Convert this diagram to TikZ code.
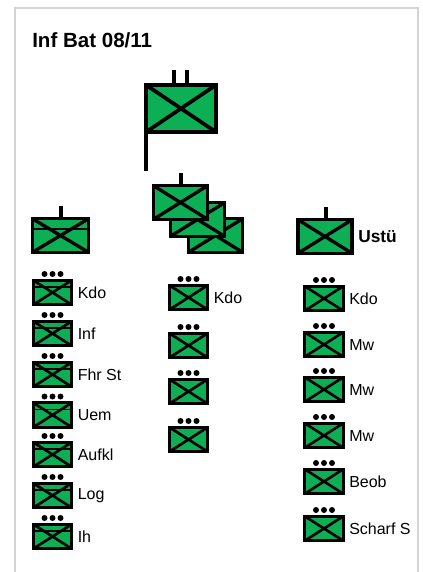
\documentclass[tikz,border=0pt]{standalone}
\usepackage{fontspec}
\setmainfont{Liberation Sans}
\definecolor{milgreen}{HTML}{0DAF55}
\definecolor{panelgrey}{HTML}{D4D4D4}
\newcommand{\pxu}{*0.75pt}
\tikzset{
  crossed/.style={draw=black,fill=milgreen,inner sep=0pt,outer sep=0pt,
    path picture={\draw[line width=#1] (path picture bounding box.north west)--(path picture bounding box.south east)
      (path picture bounding box.north east)--(path picture bounding box.south west);}},
  bigunit/.style={crossed=2.5pt,line width=2.6pt,minimum width=54\pxu,minimum height=33.5\pxu},
  smallunit/.style={crossed=2pt,line width=2pt,minimum width=38.5\pxu,minimum height=24.5\pxu},
  stem/.style={line width=2.3pt},
  rowlabel/.style={anchor=west,inner sep=0pt,font=\fontsize{12}{14}\selectfont},
  rankdot/.style={circle,fill=black,inner sep=0pt,minimum size=4.5pt},
}
% name, x centre, y centre, label
\newcommand{\squad}[4]{%
  \node[smallunit] (#1) at (#2,#3) {};
  \node[rankdot] (#1d1) at (#2-8,#3-18.5) {};
  \node[rankdot] (#1d2) at (#2,#3-18.5) {};
  \node[rankdot] (#1d3) at (#2+8,#3-18.5) {};
  \node[rowlabel] (#1t) at (#2+25,#3) {#4};
}
\begin{document}
\begin{tikzpicture}[x=0.75pt,y=-0.75pt]
\useasboundingbox (0,0) rectangle (422,572);
\draw[panelgrey,line width=1.3pt] (15,572)--(15,8)--(418,8)--(418,572);
\node[anchor=base west,inner sep=0pt,font=\bfseries\fontsize{15.4}{18}\selectfont] (title) at (32,47) {Inf Bat 08/11};

% battalion
\node[crossed=2.8pt,line width=3.4pt,minimum width=70\pxu,minimum height=47\pxu] (bat) at (181,108.5) {};
\coordinate (batA) at (174,70); \coordinate (batB) at (187,70); \coordinate (batC) at (146,171);
\draw[stem] (batA)--(batA|-bat.north);
\draw[stem] (batB)--(batB|-bat.north);
\draw[line width=3.2pt] (bat.south west -| batC)--(batC);

% company stack
\node[bigunit] (c3) at (215.5,235.5) {};
\node[bigunit] (c2) at (197.5,219.5) {};
\node[bigunit] (c1) at (180.5,202.5) {};
\coordinate (c1t) at (181,173);
\draw[stem] (c1t)--(c1t|-c1.north);

% left company
\node[bigunit,minimum width=56\pxu] (left) at (60.5,235.5) {};
\draw[line width=1.8pt] ([yshift=-7.5pt]left.north west)--([yshift=-7.5pt]left.north east);
\coordinate (leftt) at (61,206);
\draw[stem] (leftt)--(leftt|-left.north);

% Ustue
\node[bigunit] (ust) at (325,236.5) {};
\coordinate (ustt) at (326,207);
\draw[stem] (ustt)--(ustt|-ust.north);
\node[anchor=west,inner sep=0pt,font=\bfseries\fontsize{13}{15}\selectfont] (ustl) at (358,236.5) {Ustü};

% left column
\squad{a1}{52.5}{292.5}{Kdo}
\squad{a2}{52.5}{333.5}{Inf}
\squad{a3}{52.5}{374.5}{Fhr St}
\squad{a4}{52.5}{415}{Uem}
\squad{a5}{52.5}{454.5}{Aufkl}
\squad{a6}{52.5}{495.5}{Log}
\squad{a7}{52.5}{536.5}{Ih}
\foreach \n in {a1,a2,a3,a4,a5,a6,a7}
  \draw[line width=1.2pt] ([yshift=-5pt]\n.north west)--([yshift=-5pt]\n.north east);

% middle column
\squad{b1}{188.5}{297.5}{Kdo}
\squad{b2}{188.5}{345.5}{}
\squad{b3}{188.5}{391.5}{}
\squad{b4}{188.5}{439.5}{}

% right column
\squad{c1s}{324}{298.5}{Kdo}
\squad{c2s}{324}{344.5}{Mw}
\squad{c3s}{324}{389.5}{Mw}
\squad{c4s}{324}{435.5}{Mw}
\squad{c5s}{324}{481.5}{Beob}
\squad{c6s}{324}{528.5}{Scharf S}
\end{tikzpicture}
\end{document}
